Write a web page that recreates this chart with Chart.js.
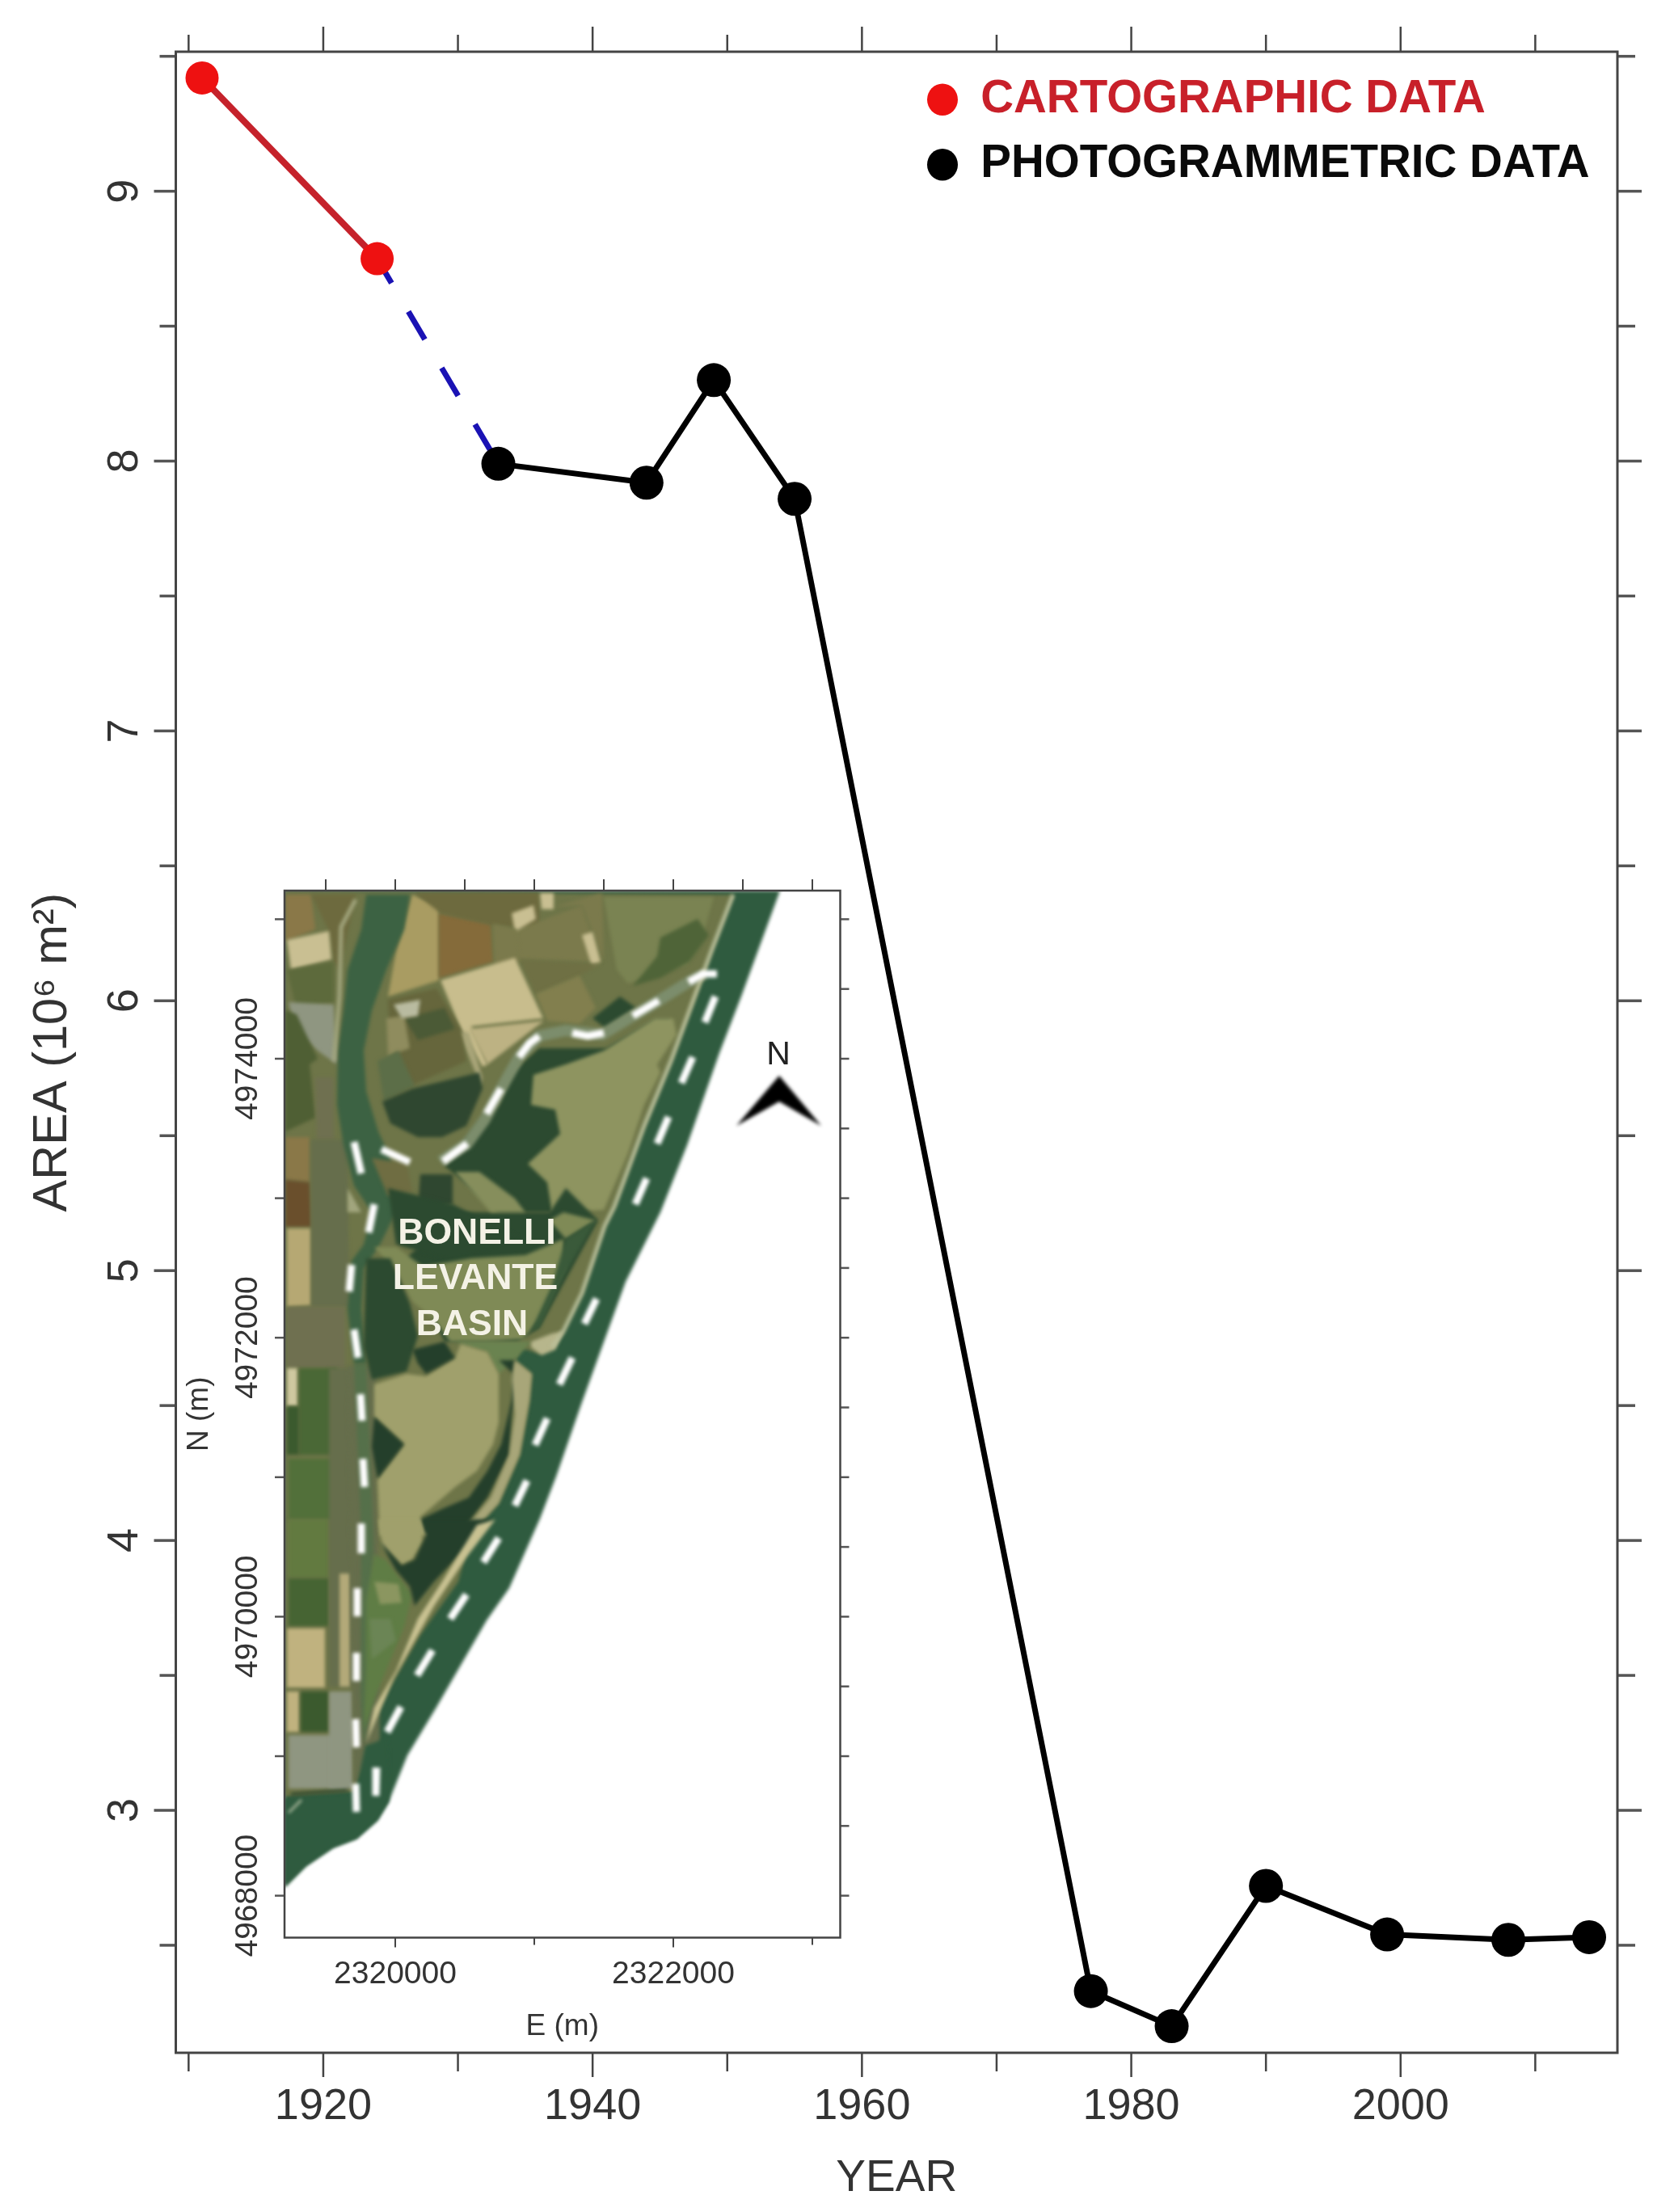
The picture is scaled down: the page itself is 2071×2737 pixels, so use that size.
<!DOCTYPE html>
<html><head><meta charset="utf-8">
<script src="https://cdn.jsdelivr.net/npm/chart.js@4/dist/chart.umd.min.js"></script>
<style>
html,body{margin:0;padding:0;background:#fff;}
#wrap{position:relative;width:2071px;height:2737px;overflow:hidden;background:#fff;}
canvas{position:absolute;display:block;filter:blur(0.6px);}
</style></head><body>
<div id="wrap"><canvas id="main" width="2071" height="2737" style="left:0;top:0;width:2071px;height:2737px"></canvas>
<canvas id="inset" width="842" height="1450" style="left:228px;top:1080px;width:842px;height:1450px"></canvas></div>
<script>
/* ---------- chart values ---------- */
const cartYears  = [1911, 1924];
const cartArea   = [9.42, 8.75];
const gapYears   = [1924, 1933];
const gapArea    = [8.75, 7.99];
const photoYears = [1933, 1944, 1949, 1955, 1977, 1983, 1990, 1999, 2008, 2014];
const photoArea  = [7.99, 7.92, 8.30, 7.86, 2.33, 2.20, 2.72, 2.54, 2.52, 2.53];
const xTicks  = [1910,1920,1930,1940,1950,1960,1970,1980,1990,2000,2010];
const xLabels = [1920,1940,1960,1980,2000];
const yTicks  = [2.5,3,3.5,4,4.5,5,5.5,6,6.5,7,7.5,8,8.5,9,9.5];
const yLabels = [3,4,5,6,7,8,9];
const legendNames = ["CARTOGRAPHIC DATA","PHOTOGRAMMETRIC DATA"];
/* inset map axes */
const eastTicks  = [2319500,2320000,2320500,2321000,2321500,2322000,2322500,2323000];
const eastLabels = [2320000,2322000];
const northTicks = [4968000,4968500,4969000,4969500,4970000,4970500,4971000,4971500,4972000,4972500,4973000,4973500,4974000,4974500,4975000];
const northLabels= [4968000,4970000,4972000,4974000];
const mapTexts = [["BONELLI",590,1527],["LEVANTE",588,1583],["BASIN",584,1640]];

/* inset photograph traced as georeferenced outlines (traced in image coordinates) */
const palette = {sea:'#2f5b3f',land:'#6e7548',brown:'#8a7848',dkbrown:'#6a4f2c',pale:'#c9bf92',tan:'#b6a873',olive:'#5d6a3c',
 town:'#8f9681',field:'#4f5f34',vill:'#6f7050',wheat:'#c0b27f',grn1:'#4a6836',grn2:'#3b5a2e',grn3:'#52703a',grn4:'#627a40',grn5:'#466433',
 strip:'#666e4c',river:'#3c6243',chan:'#55704a',veg:'#2c4a30',veg2:'#243f2b',lag:'#8e9460',lag2:'#7f8a56',lag3:'#a0a06c',mid:'#6a8350',
 nlag:'#7a8352',nveg:'#4f6438',sand:'#c9c292',spit:'#a8a679',inl:'#b7b68c',bigpale:'#c8bd8d',pale2:'#bdb283',fld1:'#7b7a4c',fld2:'#6f7044',
 fld3:'#827f4e',fld4:'#856b3a',fld5:'#6d6a3e',tan2:'#a99c62',blk:'#66663c',blk2:'#4b5a36',blk3:'#8f8c5e',wht:'#b9bba0',pond:'#2f4730',pondb:'#5c6e48',
 diag:'#a9a579',patch:'#868e5c',mud:'#6f6d42',spot:'#8b9660',spot2:'#6b8555',sgrn:'#5f7d45',strpale:'#b3a979',road:'#7c8d6c',bank:'#a2a67e',
 beach:'#bcc09a',dash:'#ffffff',arrow:'#000000',line2:'#24402a',pier:'#a8b79a',edge:'#3a5a3a',white:'#cfc9a0'};
const mapRings = [
 ['sea',[352,1102,965,1102,917,1233,890,1303,850,1417,817,1500,774,1586,720,1735,688,1827,668,1879,630,1965,602,2005,539,2114,504,2172,481,2229,467,2252,441,2275,412,2286,378,2309,352,2335]],
 ['land',[352,1102,907,1107,880,1177,863,1227,830,1313,797,1393,760,1493,748,1517,720,1600,697,1647,683,1667,667,1675,645,1668,637,1683,658,1700,655,1733,643,1800,617,1860,583,1897,567,1957,520,2023,483,2087,460,2133,453,2157,448,2175,440,2218,352,2224]],
 ['brown',[353,1107,385,1107,390,1150,353,1165]],
 ['fld5',[385,1107,440,1107,420,1200,413,1190,407,1152]],
 ['pale',[355,1163,407,1152,410,1187,360,1200]],
 ['olive',[355,1200,413,1190,413,1240,367,1250]],
 ['town',[357,1240,413,1243,417,1317,393,1300,365,1275]],
 ['field',[353,1250,367,1255,393,1310,383,1317,390,1383,353,1400]],
 ['vill',[390,1333,413,1333,413,1410,392,1410]],
 ['brown',[353,1407,383,1407,383,1463,353,1460]],
 ['dkbrown',[353,1460,383,1463,385,1518,353,1518]],
 ['tan',[355,1520,385,1520,385,1615,355,1617]],
 ['strip',[385,1410,430,1410,432,1617,385,1617]],
 ['vill',[355,1617,427,1617,427,1693,355,1693]],
 ['white',[355,1693,368,1693,368,1740,355,1740]],
 ['grn1',[370,1693,417,1693,417,1800,370,1800]],
 ['grn2',[355,1740,370,1740,370,1800,355,1800]],
 ['grn3',[357,1805,420,1805,420,1880,357,1880]],
 ['grn4',[357,1880,407,1880,407,1952,357,1952]],
 ['grn5',[357,1953,407,1953,407,2012,357,2012]],
 ['wheat',[355,2015,402,2015,402,2088,355,2088]],
 ['wheat',[355,2093,370,2093,370,2143,355,2143]],
 ['grn2',[372,2093,407,2093,407,2143,372,2143]],
 ['town',[357,2147,430,2147,430,2213,357,2213]],
 ['strip',[407,1693,437,1693,437,2087,407,2087]],
 ['strpale',[420,1947,433,1947,433,2087,420,2087]],
 ['town',[407,2093,437,2093,437,2213,407,2213]],
 ['strip',[430,1690,465,1690,470,2160,437,2213]],
 ['chan',[438,1687,453,1687,462,1900,461,2100,450,2160,446,2100,447,1900]],
 ['sea',[352,2224,440,2218,452,2160,480,2150,481,2229,467,2252,441,2275,412,2286,378,2309,352,2335]],
 /* north fields */
 ['tan2',[510,1107,543,1120,543,1213,480,1233,490,1177]],
 ['fld4',[543,1130,607,1143,610,1190,543,1210]],
 ['fld5',[513,1105,667,1105,667,1150,610,1145,545,1130]],
 ['fld1',[633,1153,720,1120,743,1190,640,1187]],
 ['pale',[633,1130,660,1120,663,1137,637,1153]],
 ['pale',[668,1105,685,1105,685,1125,670,1125]],
 ['fld1',[685,1122,745,1105,747,1190,720,1120]],
 ['pale',[720,1157,733,1153,743,1190,732,1195]],
 ['fld2',[643,1187,743,1193,717,1207,663,1230]],
 ['fld3',[663,1230,717,1207,737,1247,717,1267,677,1263]],
 ['fld1',[610,1143,640,1150,643,1190,612,1195]],
 ['bigpale',[545,1213,637,1185,672,1260,583,1270,603,1317,597,1320,570,1273]],
 ['pale2',[580,1273,673,1263,603,1317]],
 ['diag',[567,1277,580,1277,597,1333,595,1343]],
 ['blk',[480,1237,540,1223,570,1273,577,1313,510,1343,483,1300]],
 ['blk2',[500,1260,550,1247,563,1273,517,1287]],
 ['blk3',[478,1260,500,1257,507,1297,480,1307]],
 ['wht',[487,1243,520,1237,517,1257,497,1260]],
 ['pondb',[467,1313,493,1300,513,1343,475,1363]],
 ['pond',[473,1363,510,1347,593,1327,597,1347,577,1393,547,1407,517,1407,483,1390]],
 ['river',[453,1107,447,1150,430,1200,425,1250,418,1300,417,1367,425,1417,438,1467,460,1500,450,1540,435,1560,430,1620,438,1687,453,1687,447,1620,450,1570,470,1540,490,1500,483,1467,483,1433,468,1400,453,1350,450,1300,460,1250,478,1200,500,1150,507,1107]],
 /* lagoons and vegetation */
 ['nlag',[747,1110,883,1110,867,1167,850,1193,777,1217,763,1200]],
 ['nveg',[817,1160,863,1137,877,1157,853,1190,817,1210,783,1220,813,1183]],
 ['veg',[733,1260,767,1233,787,1247,750,1273]],
 ['veg',[617,1367,633,1327,667,1297,750,1297,810,1262,830,1262,683,1500,617,1500,563,1453,550,1443,590,1393]],
 ['lag',[660,1330,700,1317,747,1300,810,1260,833,1260,837,1280,813,1317,817,1327,797,1367,777,1427,747,1497,683,1500,677,1463,653,1440,693,1403,687,1373,657,1367]],
 ['veg',[620,1500,680,1500,700,1470,740,1510,667,1643,640,1660,550,1660,500,1560,560,1500]],
 ['patch',[563,1450,593,1450,637,1483,650,1500,607,1500]],
 ['mud',[460,1433,503,1440,510,1475,480,1480]],
 ['pond',[520,1453,560,1453,560,1490,517,1497]],
 ['bank',[430,1470,447,1500,430,1500]],
 ['veg',[480,1470,560,1490,640,1530,560,1560,490,1540]],
 ['lag2',[463,1543,490,1543,523,1567,583,1557,650,1553,697,1533,700,1567,667,1633,647,1657,603,1660,557,1660,537,1633,510,1610,490,1573]],
 ['lag2',[697,1500,737,1510,700,1533,680,1510]],
 ['edge',[737,1510,697,1580,667,1643,657,1647,683,1590,700,1533]],
 ['veg',[453,1557,483,1557,507,1613,517,1653,503,1697,460,1707,450,1667]],
 ['mid',[563,1660,657,1660,637,1683,617,1700,603,1673,570,1663]],
 ['lag3',[463,1713,503,1700,527,1703,563,1680,570,1663,603,1673,617,1700,617,1760,610,1787,590,1820,563,1840,520,1877,533,1900,470,1900,467,1830,500,1787,463,1753]],
 ['veg2',[510,1670,550,1660,563,1680,527,1700,517,1687]],
 ['veg2',[463,1753,500,1787,467,1830,460,1790]],
 ['veg2',[617,1683,637,1683,633,1733,620,1787,603,1820,580,1853,547,1867,520,1880,527,1897,577,1887,603,1853,630,1800,633,1750,643,1707]],
 ['spit',[637,1683,658,1700,655,1733,643,1800,617,1860,583,1897,577,1890,607,1853,630,1800,637,1750,633,1707]],
 ['lag3',[468,1880,520,1880,523,1907,510,1930,497,1937,473,1913]],
 ['sgrn',[463,1923,477,1930,510,1973,500,2013,467,2093,450,2140,453,2060,453,1980]],
 ['veg2',[470,1907,497,1937,513,1930,527,1900,527,1880,610,1880,537,1957,513,1987,507,1963,490,1943]],
 ['spot',[463,1957,493,1960,497,1983,470,1985]],
 ['spot2',[457,2003,483,2003,490,2030,460,2053]],
 ['sand',[590,1887,613,1880,577,1927,537,1987,513,2030,487,2077,457,2147,453,2157,463,2113,490,2067,517,2003,547,1957]],
 ['inl',[657,1660,683,1650,697,1647,687,1670,670,1677,657,1667]],
 ['arrow',[964,1331,911,1393,964,1363,1016,1393]]
];
/* strokes: palette name, width name, outline */
const lineWidths = {thin:3, mid:5, wide:14, dash:9};
const mapLines = [
 ['bank','mid',[440,1113,422,1147,420,1233,413,1313]],
 ['road','wide',[545,1437,578,1415,600,1385,620,1347,642,1308,667,1282,700,1275,745,1280,783,1257,815,1238,852,1215,872,1205]],
 ['beach','mid',[907,1107,880,1177,830,1313,797,1393,760,1493,748,1517,720,1600,697,1647,683,1667]],
 ['line2','thin',[360,2220,430,2215]],
 ['pier','thin',[357,2243,373,2227]],
 ['dash','dash',[438,1413,447,1452]],['dash','dash',[472,1422,507,1438]],['dash','dash',[548,1437,578,1415]],
 ['dash','dash',[602,1378,620,1347]],['dash','dash',[642,1308,655,1291,667,1282]],['dash','dash',[708,1278,727,1282,747,1278]],
 ['dash','dash',[783,1257,815,1238]],['dash','dash',[852,1215,870,1205,887,1205]],
 ['dash','dash',[885,1233,872,1265]],['dash','dash',[857,1308,843,1340]],['dash','dash',[827,1382,813,1415]],['dash','dash',[800,1458,786,1490]],
 ['dash','dash',[463,1490,456,1525]],['dash','dash',[435,1565,432,1598]],['dash','dash',[438,1645,443,1680]],['dash','dash',[446,1725,448,1758]],
 ['dash','dash',[449,1805,451,1840]],['dash','dash',[447,1885,447,1922]],['dash','dash',[442,1965,442,2000]],['dash','dash',[441,2045,441,2080]],
 ['dash','dash',[440,2127,441,2162]],['dash','dash',[440,2207,441,2242]],
 ['dash','dash',[738,1607,723,1638]],['dash','dash',[708,1680,692,1713]],['dash','dash',[677,1755,662,1788]],['dash','dash',[652,1832,637,1863]],
 ['dash','dash',[617,1903,598,1933]],['dash','dash',[577,1973,557,2003]],['dash','dash',[535,2042,516,2073]],['dash','dash',[496,2112,479,2143]],['dash','dash',[466,2187,465,2222]]
];
/* georeference of the traced image */
const toEast  = px => 2320000 + (px - 489) / 0.172;
const toNorth = py => 4974000 - (py - 1310) / 0.1726;
const toPoints = flat => { const p=[]; for(let i=0;i<flat.length;i+=2) p.push({x:toEast(flat[i]),y:toNorth(flat[i+1])}); return p; };

const FONT = '"Liberation Sans", Arial, sans-serif';
const zip = (a,b) => a.map((x,i)=>({x,y:b[i]}));

/* tick marks and frame, placed through each scale */
const edgeTicks = {
 id:'edgeTicks',
 afterDraw(chart,_a,opts){
  const {ctx,chartArea:c}=chart;
  ctx.save();
  (opts.rules||[]).forEach(r=>{
    const s=chart.scales[r.scale];
    ctx.strokeStyle=r.color; ctx.lineWidth=r.width; ctx.lineCap='butt';
    s.ticks.forEach(t=>{
      const len=r.len(t.value); if(!len) return;
      const p=s.getPixelForValue(t.value);
      ctx.beginPath();
      if(r.edge==='top'){ctx.moveTo(p,c.top);ctx.lineTo(p,c.top-len);}
      if(r.edge==='bottom'){ctx.moveTo(p,c.bottom);ctx.lineTo(p,c.bottom+len);}
      if(r.edge==='left'){ctx.moveTo(c.left,p);ctx.lineTo(c.left-len,p);}
      if(r.edge==='right'){ctx.moveTo(c.right,p);ctx.lineTo(c.right+len,p);}
      ctx.stroke();
    });
  });
  ctx.strokeStyle=opts.frameColor; ctx.lineWidth=opts.frameWidth;
  ctx.strokeRect(c.left,c.top,c.right-c.left,c.bottom-c.top);
  ctx.restore();
 }
};
const legendPlace = {
 id:'legendPlace',
 afterLayout(chart,_a,opts){ if(chart.legend){chart.legend.left=opts.left; chart.legend.top=opts.top;} }
};
const noEdgePadding = s => { s.paddingTop=0; s.paddingBottom=0; s.paddingLeft=0; s.paddingRight=0; };
const axisFont = {family:FONT,size:54,lineHeight:1};
const ink = '#333333';

new Chart(document.getElementById('main'),{
 type:'line',
 plugins:[edgeTicks,legendPlace],
 data:{datasets:[
  {label:legendNames[0],data:zip(cartYears,cartArea),borderColor:'#c5222b',backgroundColor:'#ee1111',borderWidth:8,pointRadius:20.5,pointBorderWidth:0,pointBackgroundColor:'#ee1111',order:1},
  {label:'gap',data:zip(gapYears,gapArea),borderColor:'#1a12b4',borderWidth:7,borderDash:[40,41],borderDashOffset:5,pointRadius:0,order:3},
  {label:legendNames[1],data:zip(photoYears,photoArea),borderColor:'#000',backgroundColor:'#000',borderWidth:7,pointRadius:21,pointBorderWidth:0,pointBackgroundColor:'#000',order:2}
 ]},
 options:{
  responsive:false,animation:false,devicePixelRatio:1,events:[],
  layout:{autoPadding:false,padding:{top:64,right:70,left:0,bottom:0}},
  elements:{line:{tension:0,borderCapStyle:'butt'}},
  scales:{
   x:{type:'linear',position:'bottom',min:1909.05,max:2016.1,
      afterBuildTicks:s=>{s.ticks=xTicks.map(value=>({value}));},
      afterFit:s=>{s.height=197;noEdgePadding(s);},
      grid:{display:false,drawTicks:false},border:{display:false},
      ticks:{autoSkip:false,maxRotation:0,minRotation:0,padding:40,color:ink,font:axisFont,callback:v=>xLabels.includes(v)?String(v):''},
      title:{display:true,text:'YEAR',color:ink,font:{family:FONT,size:55,lineHeight:1},padding:{top:0,bottom:13.5}}},
   y:{type:'linear',position:'left',min:2.1015,max:9.517,
      afterBuildTicks:s=>{s.ticks=yTicks.map(value=>({value}));},
      afterFit:s=>{s.width=217.5;noEdgePadding(s);},
      grid:{display:false,drawTicks:false},border:{display:false},
      ticks:{autoSkip:false,minRotation:90,maxRotation:90,crossAlign:'center',padding:47,color:ink,font:axisFont,callback:v=>yLabels.includes(v)?String(v):''},
      title:{display:true,text:'AREA (10\u2076 m\u00B2)',color:ink,font:{family:FONT,size:59.5,lineHeight:1},padding:{top:36,bottom:0}}}
  },
  plugins:{
   title:{display:false},tooltip:{enabled:false},
   legend:{display:true,position:'chartArea',align:'start',
    labels:{usePointStyle:true,pointStyleWidth:38,boxHeight:28,padding:24,font:{family:FONT,size:56.5,weight:'bold',lineHeight:1},
     generateLabels:()=>[
      {text:legendNames[0],fillStyle:'#ee1111',strokeStyle:'rgba(0,0,0,0)',lineWidth:0,pointStyle:'circle',fontColor:'#c8202a',datasetIndex:0},
      {text:legendNames[1],fillStyle:'#000000',strokeStyle:'rgba(0,0,0,0)',lineWidth:0,pointStyle:'circle',fontColor:'#0a0a0a',datasetIndex:2}]}},
   legendPlace:{left:1123,top:71},
   edgeTicks:{frameColor:'#444',frameWidth:3,rules:[
    {scale:'x',edge:'top',color:'#444',width:2.5,len:v=>v%20===0?31:21},
    {scale:'x',edge:'bottom',color:'#444',width:2.5,len:v=>v%20===0?30:23},
    {scale:'y',edge:'left',color:'#555',width:3.5,len:v=>Number.isInteger(v)?27:20},
    {scale:'y',edge:'right',color:'#555',width:3.5,len:v=>Number.isInteger(v)?30:22}]}
  }
 }
});

/* inset */
const mapDatasets=[];
mapRings.forEach(([name,flat])=>mapDatasets.push({data:toPoints(flat),backgroundColor:palette[name],borderWidth:0,borderColor:'rgba(0,0,0,0)',fill:'shape',pointRadius:0,tension:0}));
mapLines.forEach(([name,w,flat])=>mapDatasets.push({data:toPoints(flat),borderColor:palette[name],borderWidth:lineWidths[w],fill:false,pointRadius:0,tension:0,borderCapStyle:'butt'}));
mapDatasets.forEach((d,i)=>{d.order=mapDatasets.length-i;});

const softMap={id:'softMap',
 beforeDatasetsDraw(c){c.ctx.save();c.ctx.filter='blur(2px)';},
 afterDatasetsDraw(c){c.ctx.restore();
  const ctx=c.ctx,xs=c.scales.x,ys=c.scales.y;
  ctx.save();ctx.textAlign='center';ctx.textBaseline='middle';
  ctx.fillStyle='#f4f2e6';ctx.font='bold 44.5px '+FONT;
  mapTexts.forEach(([t,px,py])=>ctx.fillText(t,xs.getPixelForValue(toEast(px)),ys.getPixelForValue(toNorth(py))));
  ctx.fillStyle='#222';ctx.font='41px '+FONT;
  ctx.fillText('N',xs.getPixelForValue(toEast(963)),ys.getPixelForValue(toNorth(1306)));
  ctx.restore();
 }};
const insetFont={family:FONT,size:39,lineHeight:1};
new Chart(document.getElementById('inset'),{
 type:'line',
 plugins:[softMap,edgeTicks],
 data:{datasets:mapDatasets},
 options:{
  responsive:false,animation:false,devicePixelRatio:1,events:[],
  layout:{autoPadding:false,padding:{top:22,right:30.5,left:0,bottom:0}},
  scales:{
   x:{type:'linear',position:'bottom',min:toEast(352),max:toEast(1039.5),
      afterBuildTicks:s=>{s.ticks=eastTicks.map(value=>({value}));},
      afterFit:s=>{s.height=132.5;noEdgePadding(s);},
      grid:{display:false,drawTicks:false},border:{display:false},
      ticks:{autoSkip:false,maxRotation:0,minRotation:0,padding:26,color:ink,font:insetFont,callback:v=>eastLabels.includes(v)?String(v):''},
      title:{display:true,text:'E (m)',color:ink,font:{family:FONT,size:37,lineHeight:1},padding:{top:0,bottom:3.5}}},
   y:{type:'linear',position:'left',min:toNorth(2397.5),max:toNorth(1102),
      afterBuildTicks:s=>{s.ticks=northTicks.map(value=>({value}));},
      afterFit:s=>{s.width=124;noEdgePadding(s);},
      grid:{display:false,drawTicks:false},border:{display:false},
      ticks:{autoSkip:false,minRotation:90,maxRotation:90,crossAlign:'center',padding:-31,color:ink,font:insetFont,callback:v=>northLabels.includes(v)?String(v):''},
      title:{display:true,text:'N (m)',color:ink,font:{family:FONT,size:37,lineHeight:1},padding:{top:0,bottom:0}}}
  },
  plugins:{legend:{display:false},title:{display:false},tooltip:{enabled:false},
   edgeTicks:{frameColor:'#444',frameWidth:2.5,rules:[
    {scale:'x',edge:'top',color:'#444',width:2,len:v=>v%1000===0?14:14},
    {scale:'x',edge:'bottom',color:'#444',width:2,len:v=>v%2000===0?12:(v%1000===0?9:0)},
    {scale:'y',edge:'left',color:'#555',width:2.5,len:v=>v%1000===0?12:0},
    {scale:'y',edge:'right',color:'#555',width:2.5,len:v=>v%1000===0?11:11}]}
  }
 }
});
</script></body></html>
